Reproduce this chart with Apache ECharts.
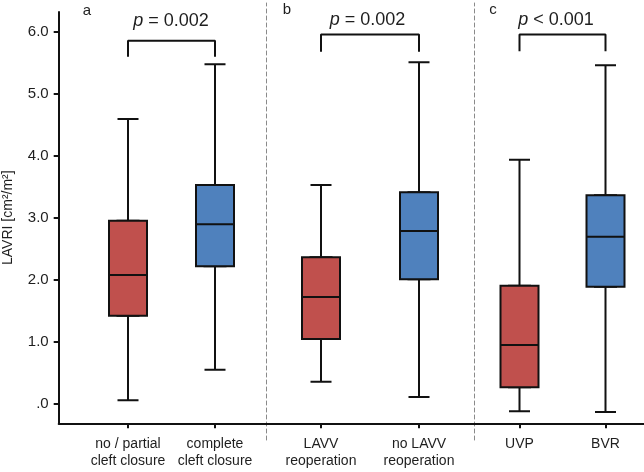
<!DOCTYPE html>
<html>
<head>
<meta charset="utf-8">
<script src="https://cdn.jsdelivr.net/npm/echarts@6/dist/echarts.min.js"></script>
<style>
html,body{margin:0;padding:0;background:#fff;}
#chart{width:644px;height:472px;}
</style>
</head>
<body>
<div id="chart"></div>
<script>
// ---- data ----
const categories = ['no / partial\ncleft closure', 'complete\ncleft closure', 'LAVV\nreoperation', 'no LAVV\nreoperation', 'UVP', 'BVR'];
const panelLetters = ['a', 'b', 'c'];
const pTexts = ['= 0.002', '= 0.002', '< 0.001'];
const mins    = [0.055, 0.549, 0.355, 0.108, -0.123, -0.134];
const q1s     = [1.420, 2.218, 1.044, 2.008, 0.265, 1.889];
const medians = [2.077, 2.896, 1.722, 2.788, 0.948, 2.696];
const q3s     = [2.954, 3.530, 2.363, 3.412, 1.905, 3.364];
const maxs    = [4.596, 5.479, 3.530, 5.511, 3.939, 5.462];
const yTickValues = [0, 1, 2, 3, 4, 5, 6];
const yTickLabels = ['.0', '1.0', '2.0', '3.0', '4.0', '5.0', '6.0'];
const bracketTops = [5.86, 5.96, 5.96];
const bracketLegs = [5.60, 5.68, 5.69];
const groupColors = ['#C0504D', '#4F81BD'];

// ---- layout / style ----
const Y_MIN = -0.316, Y_MAX = 6.323;
const TOP = 12, BOTTOM = 48.7;
const FONT = '"Liberation Sans", Arial, sans-serif';
const TXT = '#1e1e1e';
const panelLayout = [
  {left: 84.5, width: 174},
  {left: 272, width: 196},
  {left: 476.5, width: 172}
];
const pTextPos = [[171, 21], [367.5, 20], [556, 20]];
const letterPos = [[87, 11], [287, 10], [493, 10]];

const grids = [{left: 58.7, right: 0, top: TOP, bottom: BOTTOM, outerBoundsMode: 'none', containLabel: false}];
const xAxes = [{
  type: 'value', gridIndex: 0, min: 0, max: 1,
  axisLine: {show: true, onZero: false, lineStyle: {color: '#111', width: 2}},
  axisTick: {show: false}, axisLabel: {show: false}, splitLine: {show: false}
}];
const yAxes = [{
  type: 'value', gridIndex: 0, min: Y_MIN, max: Y_MAX,
  name: 'LAVRI [cm²/m²]', nameLocation: 'middle', nameGap: 44, nameRotate: 90,
  nameTextStyle: {fontFamily: FONT, fontSize: 14, color: TXT},
  axisLine: {show: true, onZero: false, lineStyle: {color: '#111', width: 2}},
  axisTick: {show: true, customValues: yTickValues, length: 5, lineStyle: {color: '#111', width: 2}},
  axisLabel: {
    show: true, customValues: yTickValues, margin: 10,
    fontFamily: FONT, fontSize: 15, color: TXT,
    formatter: v => { const i = yTickValues.indexOf(v); return i >= 0 ? yTickLabels[i] : ''; }
  },
  splitLine: {show: false}
}];
const series = [];

panelLetters.forEach((letter, p) => {
  const gi = grids.length;
  grids.push({left: panelLayout[p].left, width: panelLayout[p].width, top: TOP, bottom: BOTTOM, outerBoundsMode: 'none', containLabel: false});
  const cats = categories.slice(2 * p, 2 * p + 2);
  const xVis = xAxes.length;
  xAxes.push({
    type: 'category', gridIndex: gi, data: cats, boundaryGap: true, position: 'bottom',
    axisLine: {show: false, onZero: false},
    axisTick: {show: true, alignWithLabel: true, length: 5, lineStyle: {color: '#111', width: 2}},
    axisLabel: {show: true, interval: 0, margin: 12, fontFamily: FONT, fontSize: 14, lineHeight: 17, color: TXT},
    splitLine: {show: false}
  });
  const xHid = xAxes.length;
  xAxes.push({
    type: 'category', gridIndex: gi, data: cats, boundaryGap: true, show: false,
    axisLine: {onZero: false}
  });
  const yi = yAxes.length;
  yAxes.push({type: 'value', gridIndex: gi, min: Y_MIN, max: Y_MAX, show: false, axisLine: {onZero: false}, splitLine: {show: false}});

  const whiskerData = [], boxData = [];
  for (let k = 0; k < 2; k++) {
    const i = 2 * p + k;
    whiskerData.push({value: [mins[i], q1s[i], q1s[i], q3s[i], maxs[i]],
      itemStyle: {color: groupColors[k], borderColor: '#111', borderWidth: 2}});
    boxData.push({value: [q1s[i], q1s[i], medians[i], q3s[i], q3s[i]],
      itemStyle: {color: groupColors[k], borderColor: '#111', borderWidth: 2}});
  }
  series.push({
    type: 'boxplot', xAxisIndex: xHid, yAxisIndex: yi, boxWidth: [21, 21],
    data: whiskerData, silent: true, z: 2
  });
  series.push({
    type: 'boxplot', xAxisIndex: xVis, yAxisIndex: yi, boxWidth: [38, 38],
    data: boxData, silent: true, z: 3
  });
  series.push({
    type: 'line', xAxisIndex: xVis, yAxisIndex: yi, symbol: 'none', silent: true, z: 4,
    lineStyle: {color: '#111', width: 2},
    data: [[0, bracketLegs[p]], [0, bracketTops[p]], [1, bracketTops[p]], [1, bracketLegs[p]]]
  });
});

// separators (dashed)
const sgi = grids.length;
grids.push({left: 266.7, width: 207.3, top: 3, bottom: 32, outerBoundsMode: 'none', containLabel: false});
xAxes.push({type: 'value', gridIndex: sgi, min: 0, max: 1, show: false, axisLine: {onZero: false}});
['left', 'right'].forEach(pos => {
  yAxes.push({
    type: 'value', gridIndex: sgi, min: 0, max: 1, position: pos,
    axisLine: {show: true, onZero: false, lineStyle: {color: '#8a8a8a', width: 1, type: [4, 3]}},
    axisTick: {show: false}, axisLabel: {show: false}, splitLine: {show: false}
  });
});

const graphics = [];
panelLetters.forEach((letter, p) => {
  graphics.push({
    type: 'text', x: letterPos[p][0], y: letterPos[p][1], silent: true,
    style: {text: letter, font: '15px ' + FONT, fill: TXT, align: 'center', verticalAlign: 'middle'}
  });
  graphics.push({
    type: 'text', x: pTextPos[p][0], y: pTextPos[p][1], silent: true,
    style: {
      text: '{i|p} ' + pTexts[p], font: '18px ' + FONT, fill: TXT, align: 'center', verticalAlign: 'middle',
      rich: {i: {fontStyle: 'italic', fontSize: 18, fontFamily: FONT, fill: TXT, color: TXT}}
    }
  });
});

const chart = echarts.init(document.getElementById('chart'), null, {renderer: 'canvas'});
chart.setOption({
  animation: false,
  backgroundColor: '#fff',
  grid: grids,
  xAxis: xAxes,
  yAxis: yAxes,
  series: series,
  graphic: graphics
});
</script>
</body>
</html>
